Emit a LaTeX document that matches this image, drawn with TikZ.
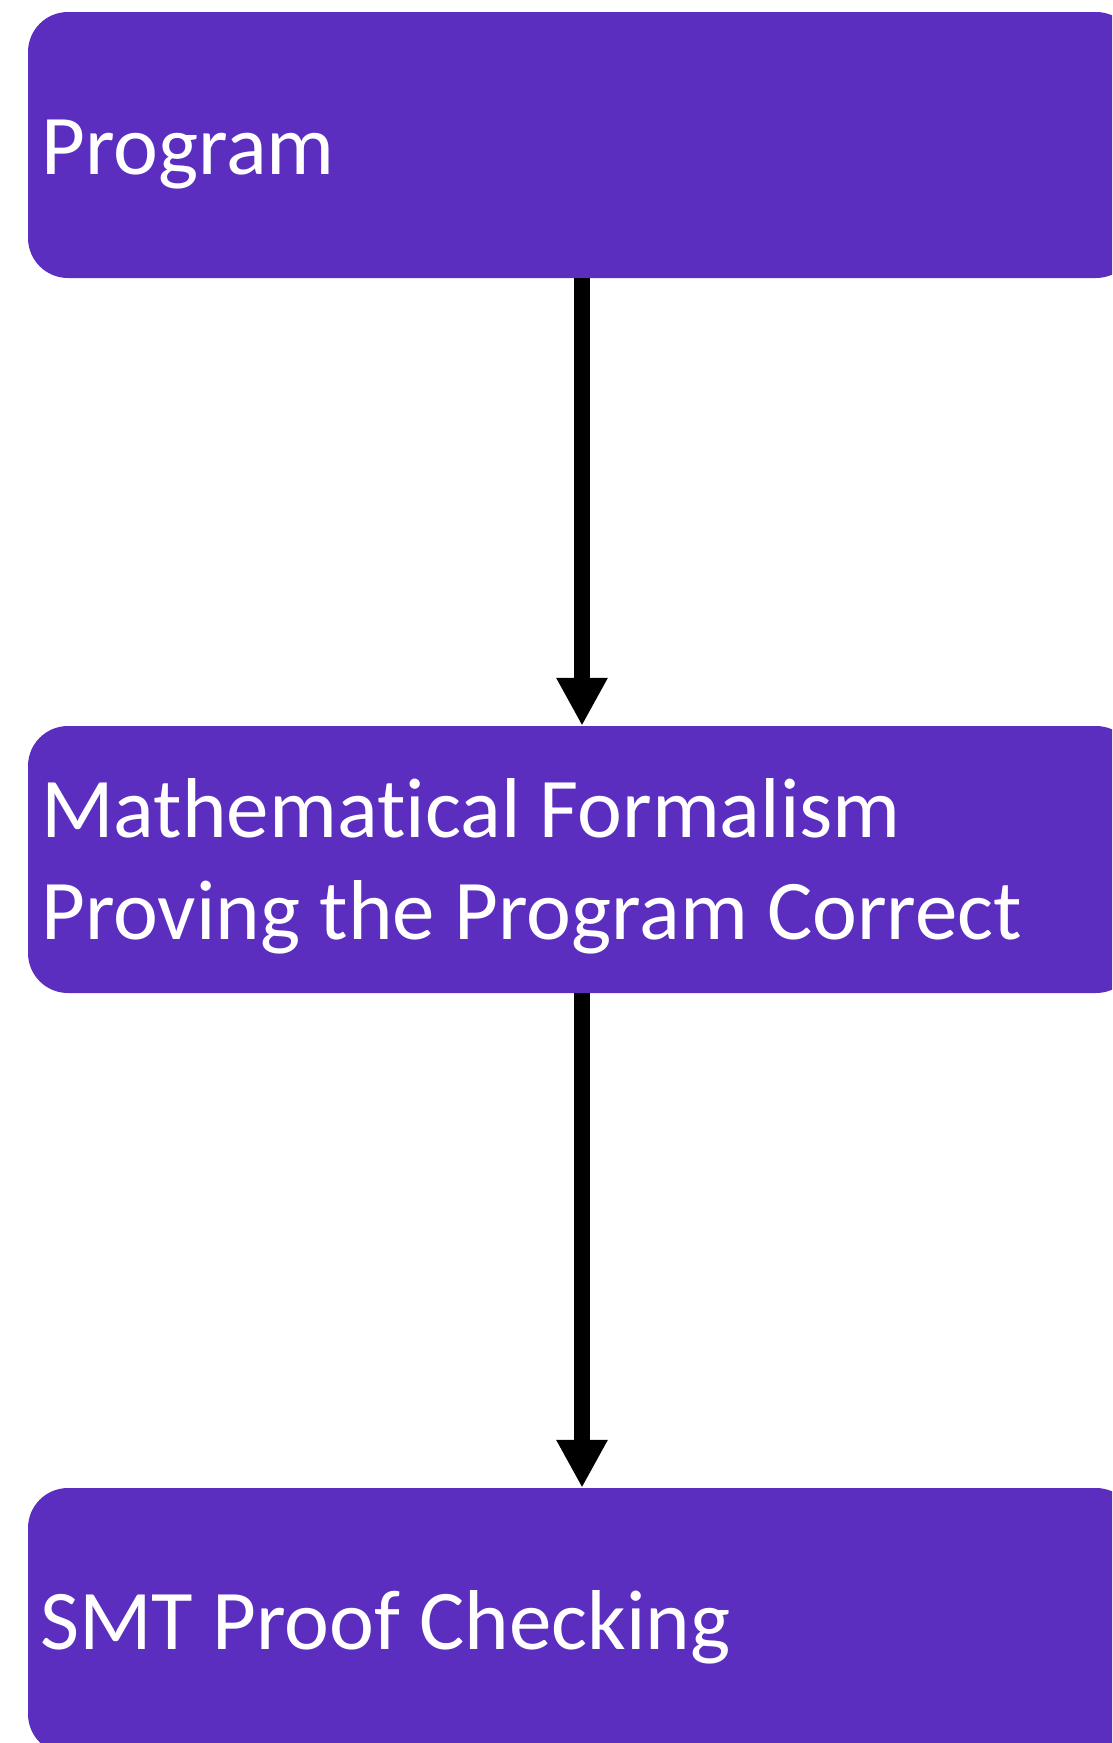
\documentclass[tikz,border=0pt]{standalone}
\usepackage{fontspec}
\setmainfont{Carlito}[Ligatures=NoCommon]
\usetikzlibrary{arrows.meta}
\definecolor{boxpurple}{RGB}{91,46,192}
\begin{document}
\begin{tikzpicture}[x=1pt,y=-1pt,
  box/.style={rectangle, rounded corners=40pt, fill=boxpurple, draw=none,
    minimum width=1108pt, minimum height=266pt, inner sep=0pt},
  boxtext/.style={anchor=base west, inner sep=0pt, text=white, align=left,
    font=\fontsize{85}{102}\selectfont},
  arr/.style={line width=16pt, -{Triangle[width=48pt,length=48pt]}}
]
\useasboundingbox (0,0) rectangle (1112,1743);
\clip (0,0) rectangle (1112,1743);
\node[box] (p) at (582,145) {};
\node[box, minimum height=267pt] (m) at (582,859.5) {};
\node[box] (s) at (582,1621) {};
\node[boxtext] (pt) at (41,174) {Program};
\node[boxtext] (mt) at (41,939) {Mathematical Formalism\\Proving the Program Correct};
\node[boxtext] (st) at (40,1649) {SMT Proof Checking};
\draw[arr] (p.south) -- (m.north);
\draw[arr] (m.south) -- (s.north);
\end{tikzpicture}
\end{document}
